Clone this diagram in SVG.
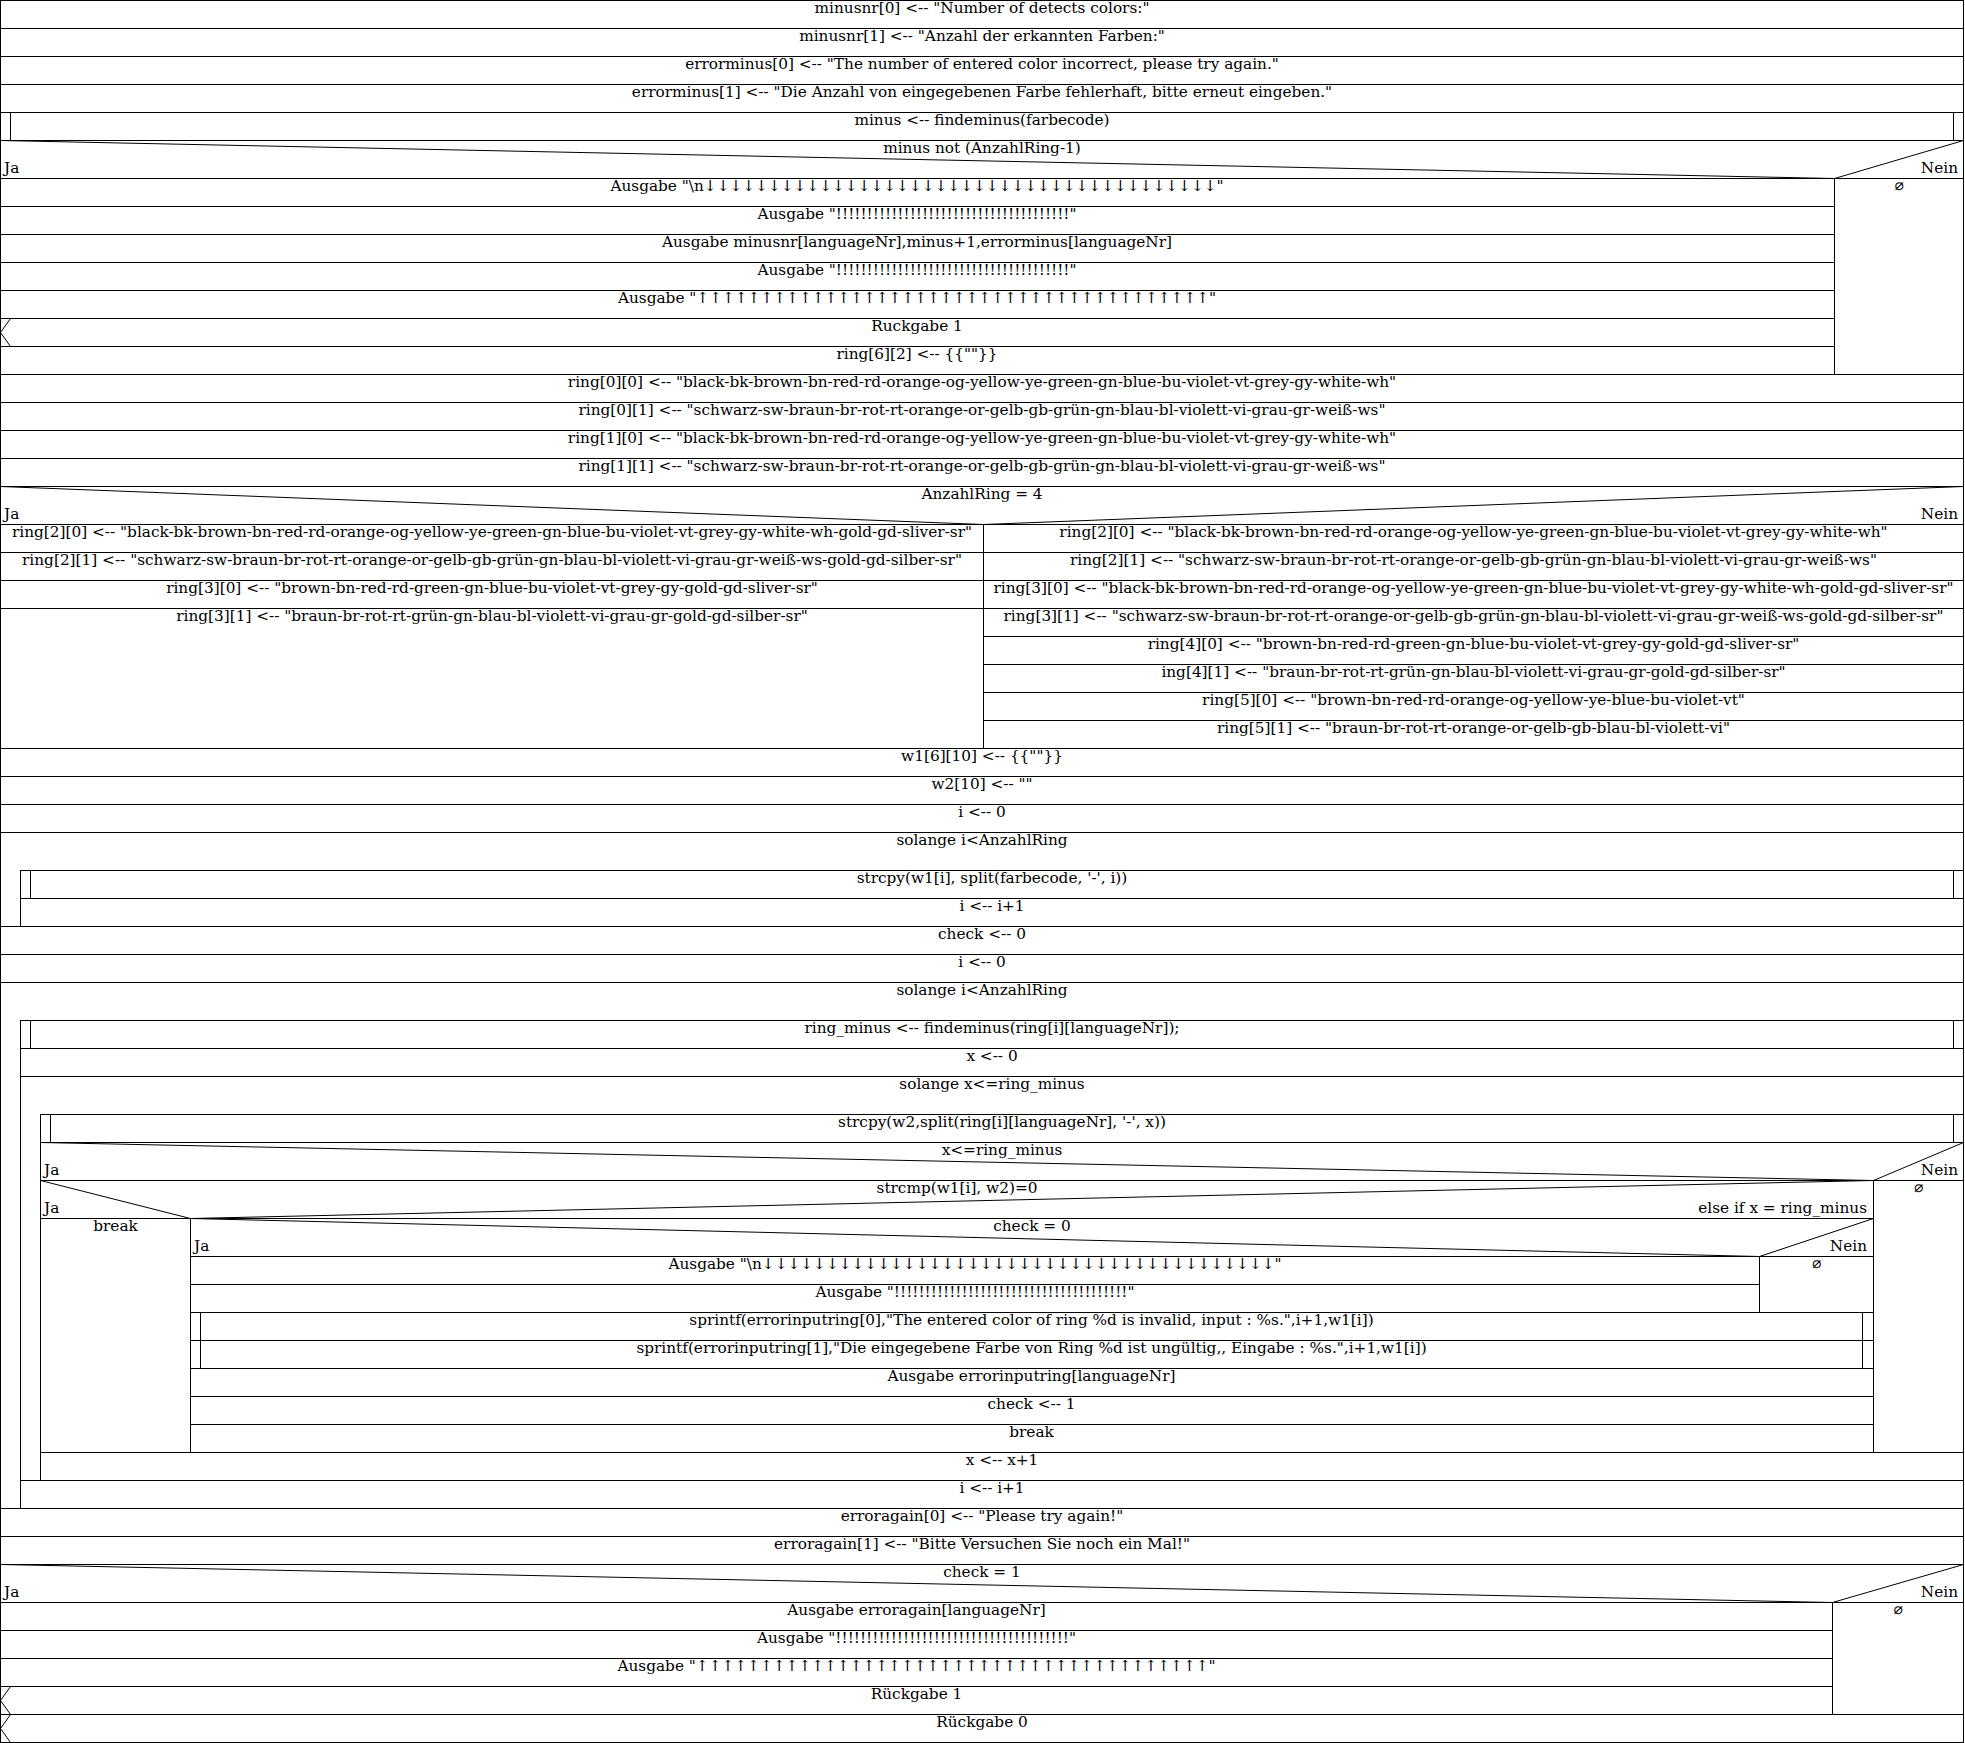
<svg xmlns="http://www.w3.org/2000/svg" width="1965" height="1743" viewBox="0 0 1965 1743">
<style>
.b{fill:none;stroke:#000;stroke-width:1}
.d{fill:none;stroke:#000;stroke-width:1}
text{font-family:"DejaVu Serif",serif;font-size:15.3px;fill:#000;text-anchor:middle}
.l{text-anchor:start}
.r{text-anchor:end}
.e{font-family:"DejaVu Sans Mono",monospace;font-size:15px}
</style>
<rect x="0" y="0" width="1965" height="1743" fill="#fff"/>
<g id="n0"><rect class="b" x="0.5" y="0.5" width="1963" height="28"/><text x="982" y="13">minusnr[0] &lt;-- "Number of detects colors:"</text></g>
<g id="n1"><rect class="b" x="0.5" y="28.5" width="1963" height="28"/><text x="982" y="41">minusnr[1] &lt;-- "Anzahl der erkannten Farben:"</text></g>
<g id="n2"><rect class="b" x="0.5" y="56.5" width="1963" height="28"/><text x="982" y="69">errorminus[0] &lt;-- "The number of entered color incorrect, please try again."</text></g>
<g id="n3"><rect class="b" x="0.5" y="84.5" width="1963" height="28"/><text x="982" y="97">errorminus[1] &lt;-- "Die Anzahl von eingegebenen Farbe fehlerhaft, bitte erneut eingeben."</text></g>
<g id="n4"><rect class="b" x="0.5" y="112.5" width="1963" height="28"/><path class="b" d="M10.5,112.5V140.5M1953.5,112.5V140.5"/><text x="982" y="125">minus &lt;-- findeminus(farbecode)</text></g>
<g id="if1"><rect class="b" x="0.5" y="140.5" width="1963" height="38"/><path class="d" d="M0.5,140.5L1834.5,178.5L1963.5,140.5"/><text x="982" y="153">minus not (AnzahlRing-1)</text><text class="l" x="4" y="173">Ja</text><text class="r" x="1958" y="173">Nein</text></g>
<g id="n5"><rect class="b" x="0.5" y="178.5" width="1834" height="28"/><text x="917" y="191">Ausgabe "\n↓↓↓↓↓↓↓↓↓↓↓↓↓↓↓↓↓↓↓↓↓↓↓↓↓↓↓↓↓↓↓↓↓↓↓↓↓↓↓↓"</text></g>
<g id="n6"><rect class="b" x="0.5" y="206.5" width="1834" height="28"/><text x="917" y="219">Ausgabe "!!!!!!!!!!!!!!!!!!!!!!!!!!!!!!!!!!!!!!"</text></g>
<g id="n7"><rect class="b" x="0.5" y="234.5" width="1834" height="28"/><text x="917" y="247">Ausgabe minusnr[languageNr],minus+1,errorminus[languageNr]</text></g>
<g id="n8"><rect class="b" x="0.5" y="262.5" width="1834" height="28"/><text x="917" y="275">Ausgabe "!!!!!!!!!!!!!!!!!!!!!!!!!!!!!!!!!!!!!!"</text></g>
<g id="n9"><rect class="b" x="0.5" y="290.5" width="1834" height="28"/><text x="917" y="303">Ausgabe "↑↑↑↑↑↑↑↑↑↑↑↑↑↑↑↑↑↑↑↑↑↑↑↑↑↑↑↑↑↑↑↑↑↑↑↑↑↑↑↑"</text></g>
<g id="n10"><rect class="b" x="0.5" y="318.5" width="1834" height="28"/><path class="d" d="M10.5,318.5L0.5,332.5L10.5,346.5"/><text x="917" y="331">Ruckgabe 1</text></g>
<g id="n11"><rect class="b" x="0.5" y="346.5" width="1834" height="28"/><text x="917" y="359">ring[6][2] &lt;-- {{""}}</text></g>
<g id="n12"><rect class="b" x="1834.5" y="178.5" width="129" height="196"/><text class="e" x="1899" y="191">∅</text></g>
<g id="n13"><rect class="b" x="0.5" y="374.5" width="1963" height="28"/><text x="982" y="387">ring[0][0] &lt;-- "black-bk-brown-bn-red-rd-orange-og-yellow-ye-green-gn-blue-bu-violet-vt-grey-gy-white-wh"</text></g>
<g id="n14"><rect class="b" x="0.5" y="402.5" width="1963" height="28"/><text x="982" y="415">ring[0][1] &lt;-- "schwarz-sw-braun-br-rot-rt-orange-or-gelb-gb-grün-gn-blau-bl-violett-vi-grau-gr-weiß-ws"</text></g>
<g id="n15"><rect class="b" x="0.5" y="430.5" width="1963" height="28"/><text x="982" y="443">ring[1][0] &lt;-- "black-bk-brown-bn-red-rd-orange-og-yellow-ye-green-gn-blue-bu-violet-vt-grey-gy-white-wh"</text></g>
<g id="n16"><rect class="b" x="0.5" y="458.5" width="1963" height="28"/><text x="982" y="471">ring[1][1] &lt;-- "schwarz-sw-braun-br-rot-rt-orange-or-gelb-gb-grün-gn-blau-bl-violett-vi-grau-gr-weiß-ws"</text></g>
<g id="if2"><rect class="b" x="0.5" y="486.5" width="1963" height="38"/><path class="d" d="M0.5,486.5L983.5,524.5L1963.5,486.5"/><text x="982" y="499">AnzahlRing = 4</text><text class="l" x="4" y="519">Ja</text><text class="r" x="1958" y="519">Nein</text></g>
<g id="n17"><rect class="b" x="0.5" y="524.5" width="983" height="28"/><text x="492" y="537">ring[2][0] &lt;-- "black-bk-brown-bn-red-rd-orange-og-yellow-ye-green-gn-blue-bu-violet-vt-grey-gy-white-wh-gold-gd-sliver-sr"</text></g>
<g id="n18"><rect class="b" x="0.5" y="552.5" width="983" height="28"/><text x="492" y="565">ring[2][1] &lt;-- "schwarz-sw-braun-br-rot-rt-orange-or-gelb-gb-grün-gn-blau-bl-violett-vi-grau-gr-weiß-ws-gold-gd-silber-sr"</text></g>
<g id="n19"><rect class="b" x="0.5" y="580.5" width="983" height="28"/><text x="492" y="593">ring[3][0] &lt;-- "brown-bn-red-rd-green-gn-blue-bu-violet-vt-grey-gy-gold-gd-sliver-sr"</text></g>
<g id="n20"><rect class="b" x="0.5" y="608.5" width="983" height="140"/><text x="492" y="621">ring[3][1] &lt;-- "braun-br-rot-rt-grün-gn-blau-bl-violett-vi-grau-gr-gold-gd-silber-sr"</text></g>
<g id="n21"><rect class="b" x="983.5" y="524.5" width="980" height="28"/><text x="1473.5" y="537">ring[2][0] &lt;-- "black-bk-brown-bn-red-rd-orange-og-yellow-ye-green-gn-blue-bu-violet-vt-grey-gy-white-wh"</text></g>
<g id="n22"><rect class="b" x="983.5" y="552.5" width="980" height="28"/><text x="1473.5" y="565">ring[2][1] &lt;-- "schwarz-sw-braun-br-rot-rt-orange-or-gelb-gb-grün-gn-blau-bl-violett-vi-grau-gr-weiß-ws"</text></g>
<g id="n23"><rect class="b" x="983.5" y="580.5" width="980" height="28"/><text x="1473.5" y="593">ring[3][0] &lt;-- "black-bk-brown-bn-red-rd-orange-og-yellow-ye-green-gn-blue-bu-violet-vt-grey-gy-white-wh-gold-gd-sliver-sr"</text></g>
<g id="n24"><rect class="b" x="983.5" y="608.5" width="980" height="28"/><text x="1473.5" y="621">ring[3][1] &lt;-- "schwarz-sw-braun-br-rot-rt-orange-or-gelb-gb-grün-gn-blau-bl-violett-vi-grau-gr-weiß-ws-gold-gd-silber-sr"</text></g>
<g id="n25"><rect class="b" x="983.5" y="636.5" width="980" height="28"/><text x="1473.5" y="649">ring[4][0] &lt;-- "brown-bn-red-rd-green-gn-blue-bu-violet-vt-grey-gy-gold-gd-sliver-sr"</text></g>
<g id="n26"><rect class="b" x="983.5" y="664.5" width="980" height="28"/><text x="1473.5" y="677">ing[4][1] &lt;-- "braun-br-rot-rt-grün-gn-blau-bl-violett-vi-grau-gr-gold-gd-silber-sr"</text></g>
<g id="n27"><rect class="b" x="983.5" y="692.5" width="980" height="28"/><text x="1473.5" y="705">ring[5][0] &lt;-- "brown-bn-red-rd-orange-og-yellow-ye-blue-bu-violet-vt"</text></g>
<g id="n28"><rect class="b" x="983.5" y="720.5" width="980" height="28"/><text x="1473.5" y="733">ring[5][1] &lt;-- "braun-br-rot-rt-orange-or-gelb-gb-blau-bl-violett-vi"</text></g>
<g id="n29"><rect class="b" x="0.5" y="748.5" width="1963" height="28"/><text x="982" y="761">w1[6][10] &lt;-- {{""}}</text></g>
<g id="n30"><rect class="b" x="0.5" y="776.5" width="1963" height="28"/><text x="982" y="789">w2[10] &lt;-- ""</text></g>
<g id="n31"><rect class="b" x="0.5" y="804.5" width="1963" height="28"/><text x="982" y="817">i &lt;-- 0</text></g>
<g id="w1"><rect class="b" x="0.5" y="832.5" width="1963" height="94"/><text x="982" y="845">solange i&lt;AnzahlRing</text></g>
<g id="n32"><rect class="b" x="20.5" y="870.5" width="1943" height="28"/><path class="b" d="M30.5,870.5V898.5M1953.5,870.5V898.5"/><text x="992" y="883">strcpy(w1[i], split(farbecode, '-', i))</text></g>
<g id="n33"><rect class="b" x="20.5" y="898.5" width="1943" height="28"/><text x="992" y="911">i &lt;-- i+1</text></g>
<g id="n34"><rect class="b" x="0.5" y="926.5" width="1963" height="28"/><text x="982" y="939">check &lt;-- 0</text></g>
<g id="n35"><rect class="b" x="0.5" y="954.5" width="1963" height="28"/><text x="982" y="967">i &lt;-- 0</text></g>
<g id="w2"><rect class="b" x="0.5" y="982.5" width="1963" height="526"/><text x="982" y="995">solange i&lt;AnzahlRing</text></g>
<g id="n36"><rect class="b" x="20.5" y="1020.5" width="1943" height="28"/><path class="b" d="M30.5,1020.5V1048.5M1953.5,1020.5V1048.5"/><text x="992" y="1033">ring_minus &lt;-- findeminus(ring[i][languageNr]);</text></g>
<g id="n37"><rect class="b" x="20.5" y="1048.5" width="1943" height="28"/><text x="992" y="1061">x &lt;-- 0</text></g>
<g id="w3"><rect class="b" x="20.5" y="1076.5" width="1943" height="404"/><text x="992" y="1089">solange x&lt;=ring_minus</text></g>
<g id="n38"><rect class="b" x="40.5" y="1114.5" width="1923" height="28"/><path class="b" d="M50.5,1114.5V1142.5M1953.5,1114.5V1142.5"/><text x="1002" y="1127">strcpy(w2,split(ring[i][languageNr], '-', x))</text></g>
<g id="if3"><rect class="b" x="40.5" y="1142.5" width="1923" height="38"/><path class="d" d="M40.5,1142.5L1873.5,1180.5L1963.5,1142.5"/><text x="1002" y="1155">x&lt;=ring_minus</text><text class="l" x="44" y="1175">Ja</text><text class="r" x="1958" y="1175">Nein</text></g>
<g id="if4"><rect class="b" x="40.5" y="1180.5" width="1833" height="38"/><path class="d" d="M40.5,1180.5L190.5,1218.5L1873.5,1180.5"/><text x="957" y="1193">strcmp(w1[i], w2)=0</text><text class="l" x="44" y="1213">Ja</text><text class="r" x="1867" y="1213">else if x = ring_minus</text></g>
<g id="n39"><rect class="b" x="40.5" y="1218.5" width="150" height="234"/><text x="115.5" y="1231">break</text></g>
<g id="if5"><rect class="b" x="190.5" y="1218.5" width="1683" height="38"/><path class="d" d="M190.5,1218.5L1759.5,1256.5L1873.5,1218.5"/><text x="1032" y="1231">check = 0</text><text class="l" x="194" y="1251">Ja</text><text class="r" x="1867" y="1251">Nein</text></g>
<g id="n40"><rect class="b" x="190.5" y="1256.5" width="1569" height="28"/><text x="975" y="1269">Ausgabe "\n↓↓↓↓↓↓↓↓↓↓↓↓↓↓↓↓↓↓↓↓↓↓↓↓↓↓↓↓↓↓↓↓↓↓↓↓↓↓↓↓"</text></g>
<g id="n41"><rect class="b" x="190.5" y="1284.5" width="1569" height="28"/><text x="975" y="1297">Ausgabe "!!!!!!!!!!!!!!!!!!!!!!!!!!!!!!!!!!!!!!"</text></g>
<g id="n42"><rect class="b" x="1759.5" y="1256.5" width="114" height="56"/><text class="e" x="1816.5" y="1269">∅</text></g>
<g id="n43"><rect class="b" x="190.5" y="1312.5" width="1683" height="28"/><path class="b" d="M200.5,1312.5V1340.5M1862.5,1312.5V1340.5"/><text x="1031.5" y="1325">sprintf(errorinputring[0],"The entered color of ring %d is invalid, input : %s.",i+1,w1[i])</text></g>
<g id="n44"><rect class="b" x="190.5" y="1340.5" width="1683" height="28"/><path class="b" d="M200.5,1340.5V1368.5M1862.5,1340.5V1368.5"/><text x="1031.5" y="1353">sprintf(errorinputring[1],"Die eingegebene Farbe von Ring %d ist ungültig,, Eingabe : %s.",i+1,w1[i])</text></g>
<g id="n45"><rect class="b" x="190.5" y="1368.5" width="1683" height="28"/><text x="1031.5" y="1381">Ausgabe errorinputring[languageNr]</text></g>
<g id="n46"><rect class="b" x="190.5" y="1396.5" width="1683" height="28"/><text x="1031.5" y="1409">check &lt;-- 1</text></g>
<g id="n47"><rect class="b" x="190.5" y="1424.5" width="1683" height="28"/><text x="1031.5" y="1437">break</text></g>
<g id="n48"><rect class="b" x="1873.5" y="1180.5" width="90" height="272"/><text class="e" x="1918.5" y="1193">∅</text></g>
<g id="n49"><rect class="b" x="40.5" y="1452.5" width="1923" height="28"/><text x="1002" y="1465">x &lt;-- x+1</text></g>
<g id="n50"><rect class="b" x="20.5" y="1480.5" width="1943" height="28"/><text x="992" y="1493">i &lt;-- i+1</text></g>
<g id="n51"><rect class="b" x="0.5" y="1508.5" width="1963" height="28"/><text x="982" y="1521">erroragain[0] &lt;-- "Please try again!"</text></g>
<g id="n52"><rect class="b" x="0.5" y="1536.5" width="1963" height="28"/><text x="982" y="1549">erroragain[1] &lt;-- "Bitte Versuchen Sie noch ein Mal!"</text></g>
<g id="if6"><rect class="b" x="0.5" y="1564.5" width="1963" height="38"/><path class="d" d="M0.5,1564.5L1832.5,1602.5L1963.5,1564.5"/><text x="982" y="1577">check = 1</text><text class="l" x="4" y="1597">Ja</text><text class="r" x="1958" y="1597">Nein</text></g>
<g id="n53"><rect class="b" x="0.5" y="1602.5" width="1832" height="28"/><text x="916.5" y="1615">Ausgabe erroragain[languageNr]</text></g>
<g id="n54"><rect class="b" x="0.5" y="1630.5" width="1832" height="28"/><text x="916.5" y="1643">Ausgabe "!!!!!!!!!!!!!!!!!!!!!!!!!!!!!!!!!!!!!!"</text></g>
<g id="n55"><rect class="b" x="0.5" y="1658.5" width="1832" height="28"/><text x="916.5" y="1671">Ausgabe "↑↑↑↑↑↑↑↑↑↑↑↑↑↑↑↑↑↑↑↑↑↑↑↑↑↑↑↑↑↑↑↑↑↑↑↑↑↑↑↑"</text></g>
<g id="n56"><rect class="b" x="0.5" y="1686.5" width="1832" height="28"/><path class="d" d="M10.5,1686.5L0.5,1700.5L10.5,1714.5"/><text x="916.5" y="1699">Rückgabe 1</text></g>
<g id="n57"><rect class="b" x="1832.5" y="1602.5" width="131" height="112"/><text class="e" x="1898" y="1615">∅</text></g>
<g id="n58"><rect class="b" x="0.5" y="1714.5" width="1963" height="28"/><path class="d" d="M10.5,1714.5L0.5,1728.5L10.5,1742.5"/><text x="982" y="1727">Rückgabe 0</text></g>
<g id="connectors"></g>
</svg>
